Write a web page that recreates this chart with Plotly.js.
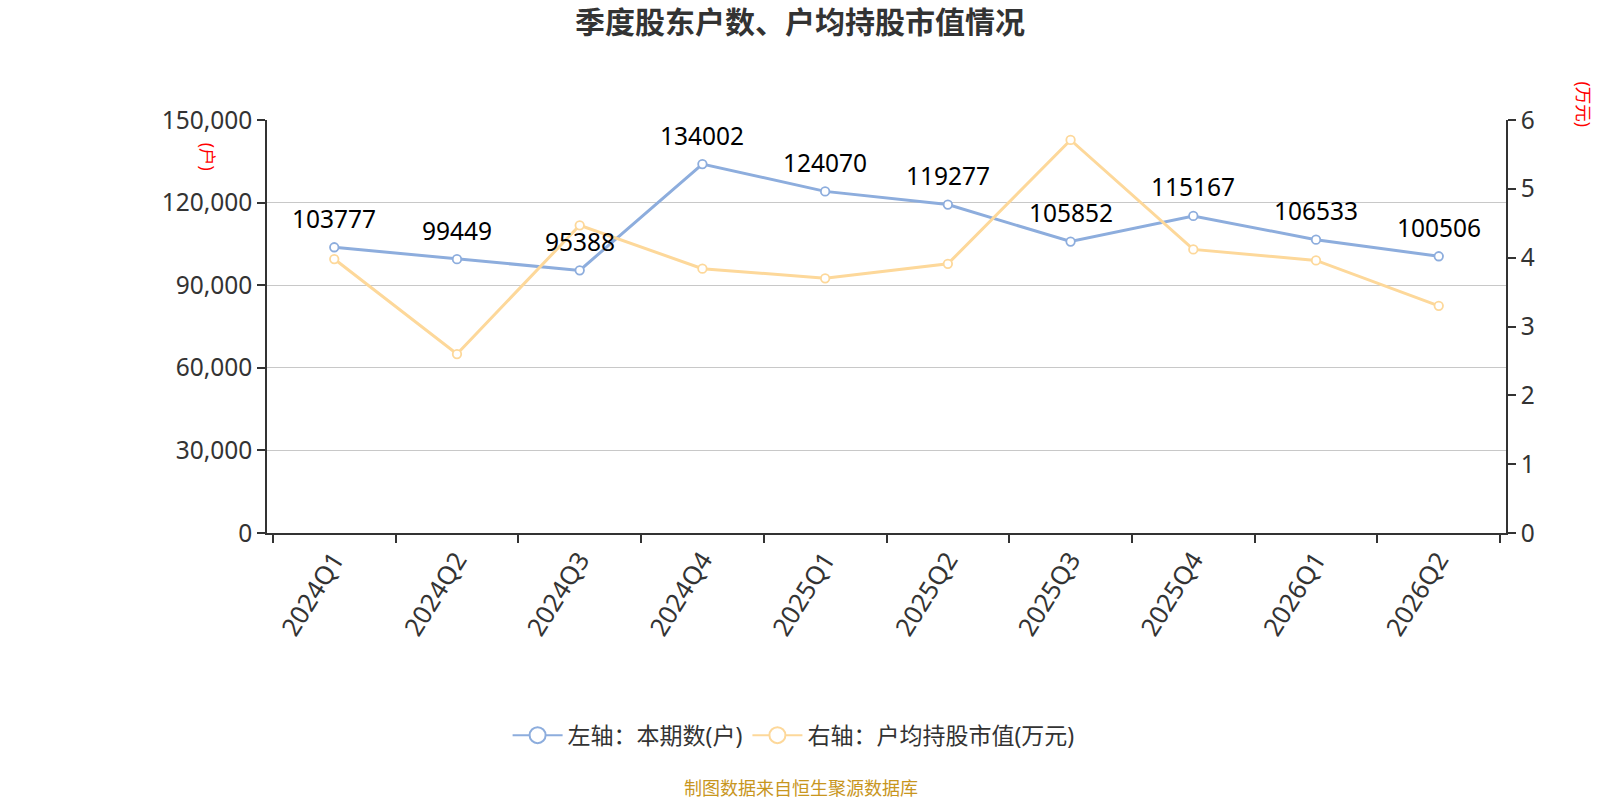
<!DOCTYPE html>
<html>
<head>
<meta charset="utf-8">
<script src="https://cdn.plot.ly/plotly-3.0.1.min.js"></script>
<style>
  html, body { margin: 0; padding: 0; background: #fff; overflow: hidden; width: 1600px; height: 800px; }
  #chart { width: 1600px; height: 800px; }
</style>
</head>
<body>
<div id="chart"></div>
<script>
// quarterly shareholder count + avg holding value per account
const quarters = ["2024Q1", "2024Q2", "2024Q3", "2024Q4", "2025Q1", "2025Q2", "2025Q3", "2025Q4", "2026Q1", "2026Q2"];
const holders = [103777, 99449, 95388, 134002, 124070, 119277, 105852, 115167, 106533, 100506];
const avgValue = [3.98, 2.60, 4.47, 3.84, 3.70, 3.91, 5.71, 4.12, 3.96, 3.30];

const BLUE = "#8daddd";
const YELLOW = "#fdd89a";
const FONT = "Noto Sans, Noto Sans CJK SC, sans-serif";

function lineTrace(y, name, color, axis) {
  return {
    x: quarters,
    y,
    name,
    type: "scatter",
    mode: "lines+markers",
    line: { color, width: 3 },
    marker: { color: "#fff", size: 8.5, line: { color, width: 1.8 } },
    yaxis: axis,
    showlegend: false,
    legendgroup: name,
  };
}

// legend entries only (bigger ring symbol like the original)
function legendTrace(name, color) {
  return {
    x: [null],
    y: [null],
    name,
    type: "scatter",
    mode: "lines+markers",
    line: { color, width: 2 },
    marker: { color: "#fff", size: 20, line: { color, width: 2 } },
    legendgroup: name,
  };
}

// value labels above the blue points
const labels = quarters.map((q, i) => ({
  x: q,
  y: holders[i],
  xref: "x",
  yref: "y",
  text: String(holders[i]),
  showarrow: false,
  yshift: 29,
  font: { size: 24.5, color: "#000", family: FONT },
}));

const tickFont = { size: 24.5, color: "#333", family: FONT };

const layout = {
  width: 1600,
  height: 800,
  paper_bgcolor: "#fff",
  plot_bgcolor: "#fff",
  margin: { l: 267, r: 94, t: 120, b: 267 },
  font: { family: FONT, color: "#333" },
  title: {
    text: "<b>季度股东户数、户均持股市值情况</b>",
    x: 0.5,
    xanchor: "center",
    y: 0.972,
    yanchor: "middle",
    font: { size: 30, color: "#333", family: FONT },
  },
  xaxis: {
    type: "category",
    tickson: "boundaries",
    ticks: "outside",
    ticklen: 8,
    tickwidth: 1.5,
    tickcolor: "#333",
    showline: true,
    linecolor: "#333",
    linewidth: 1.5,
    showgrid: false,
    tickangle: -58,
    tickfont: { size: 25.5, color: "#333", family: FONT },
  },
  yaxis: {
    range: [0, 150000],
    dtick: 30000,
    tickformat: ",d",
    ticks: "outside",
    ticklen: 8,
    tickwidth: 1.5,
    tickcolor: "#333",
    showline: true,
    linecolor: "#333",
    linewidth: 1.5,
    showgrid: true,
    gridcolor: "#c8c8c8",
    gridwidth: 1.2,
    zeroline: false,
    tickfont: tickFont,
  },
  yaxis2: {
    range: [0, 6],
    dtick: 1,
    overlaying: "y",
    side: "right",
    ticks: "outside",
    ticklen: 8,
    tickwidth: 1.5,
    tickcolor: "#333",
    showline: true,
    linecolor: "#333",
    linewidth: 1.5,
    showgrid: false,
    zeroline: false,
    tickfont: tickFont,
  },
  showlegend: true,
  legend: {
    orientation: "h",
    xref: "container",
    yref: "container",
    x: 0.496,
    xanchor: "center",
    y: 0.081,
    yanchor: "middle",
    font: { size: 23, color: "#333", family: FONT },
    itemwidth: 50,
  },
  annotations: [
    ...labels,
    {
      xref: "paper", yref: "paper", x: -0.059, y: 0.95,
      text: "(户)", textangle: 90, showarrow: false,
      font: { size: 17.5, color: "#ff0000", family: FONT },
    },
    {
      xref: "paper", yref: "paper", x: 1.075, y: 1.098,
      text: "(万元)", textangle: 90, showarrow: false,
      font: { size: 17.5, color: "#ff0000", family: FONT },
    },
    {
      xref: "paper", yref: "paper", x: 0.431, y: -0.652,
      text: "制图数据来自恒生聚源数据库", showarrow: false,
      font: { size: 18, color: "#c8961e", family: FONT },
    },
  ],
};

const traces = [
  lineTrace(holders, "左轴：本期数(户)", BLUE, "y"),
  lineTrace(avgValue, "右轴：户均持股市值(万元)", YELLOW, "y2"),
  legendTrace("左轴：本期数(户)", BLUE),
  legendTrace("右轴：户均持股市值(万元)", YELLOW),
];

Plotly.newPlot("chart", traces, layout, { displayModeBar: false });
</script>
</body>
</html>
